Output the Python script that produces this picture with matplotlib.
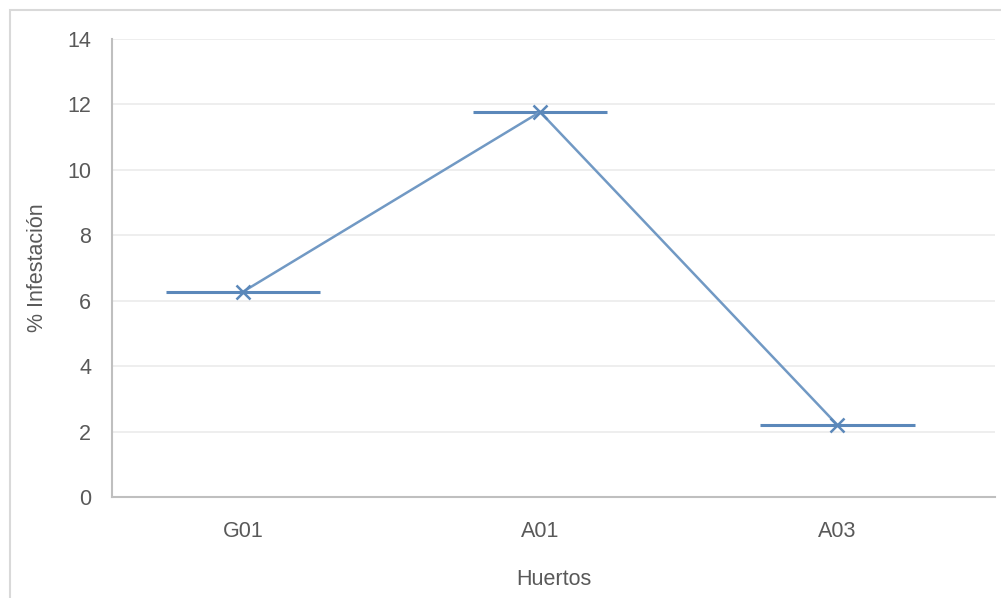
import matplotlib.pyplot as plt
from matplotlib.patches import Rectangle

# datos
huertos = ["G01", "A01", "A03"]
infestacion = [6.27, 11.77, 2.2]
ancho_err = [0.26, 0.225, 0.26]
yticks = [0, 2, 4, 6, 8, 10, 12, 14]

plt.rcParams['font.family'] = ['Liberation Sans Narrow', 'Liberation Sans', 'DejaVu Sans']

LINE = "#7199c4"
ERR = "#5b88ba"
TXT = "#595959"

fig = plt.figure(figsize=(10.01, 5.98), dpi=100)
ax = fig.add_axes([0.1119, 0.169, 0.8821, 0.7658])

x = list(range(len(huertos)))
ax.errorbar(x, infestacion, xerr=ancho_err, fmt='none', ecolor=ERR,
            elinewidth=2.2, capsize=0, zorder=2)
ax.plot(x, infestacion, color=LINE, lw=1.8, marker='x', ms=10,
        mew=1.8, mec=ERR, zorder=3)

ax.set_xlim(-0.44, 2.53)
ax.set_ylim(0, 14)
ax.set_yticks(yticks)
ax.set_xticks(x)
ax.set_xticklabels(huertos)
ax.grid(axis='y', color='#ebebeb', lw=1.2)
ax.set_axisbelow(True)

for s in ['top', 'right']:
    ax.spines[s].set_visible(False)
for s in ['left', 'bottom']:
    ax.spines[s].set_color('#bfbfbf')
    ax.spines[s].set_linewidth(1.5)

ax.tick_params(length=0, labelsize=15.5, colors=TXT)
ax.tick_params(axis='x', pad=17)
ax.tick_params(axis='y', pad=15)

ax.set_xlabel("Huertos", fontsize=15.5, color=TXT, labelpad=20)
ax.set_ylabel("% Infestación", fontsize=15.5, color=TXT, labelpad=14)

fig.patches.append(Rectangle((10 / 1001, -0.1), 1.2, 1 - 10 / 598 + 0.1,
                             transform=fig.transFigure, fill=False,
                             edgecolor='#d9d9d9', lw=1.5))

fig.savefig("out.png", dpi=100)
